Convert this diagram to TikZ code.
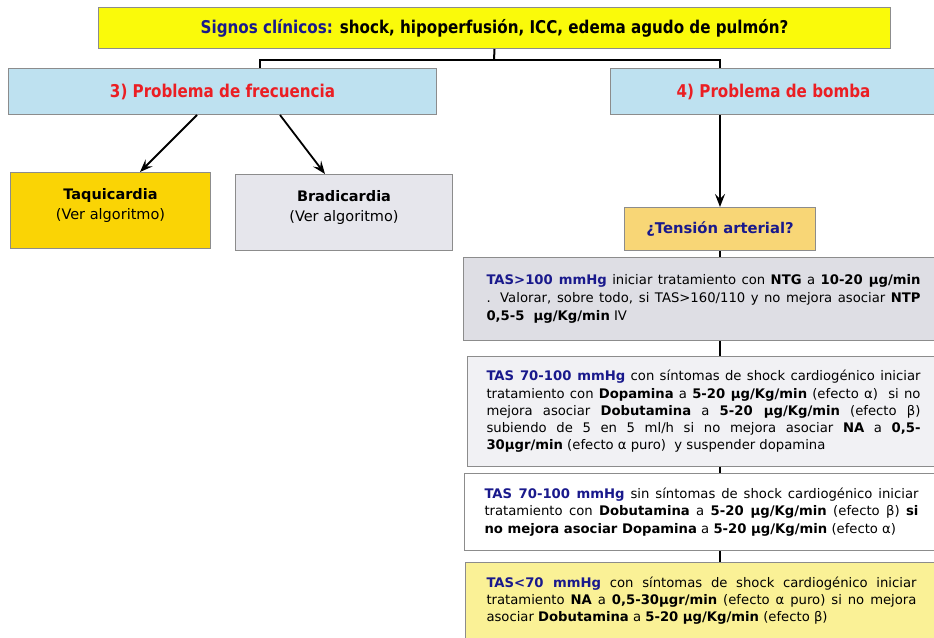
\documentclass[tikz,border=0pt]{standalone}
\usepackage{fontspec}
\setmainfont{DejaVu Sans}
\newfontfamily\condfont[FakeStretch=0.86]{DejaVu Sans}
\usetikzlibrary{arrows.meta}

\definecolor{titleyellow}{RGB}{250,250,10}
\definecolor{headblue}{RGB}{190,225,240}
\definecolor{taquigold}{RGB}{250,212,5}
\definecolor{bradigray}{RGB}{230,230,236}
\definecolor{tensionorange}{RGB}{248,214,118}
\definecolor{tasgray}{RGB}{222,222,228}
\definecolor{taslight}{RGB}{241,241,244}
\definecolor{tasyellow}{RGB}{250,241,150}
\definecolor{darkblue}{RGB}{25,25,140}
\definecolor{headred}{RGB}{235,30,35}
\definecolor{edgegray}{RGB}{140,140,140}

\newcommand{\tb}[1]{\textcolor{darkblue}{\textbf{#1}}}

\tikzset{
  box/.style={draw=edgegray, line width=1pt, anchor=north west, inner sep=0pt},
  txtbox/.style={box, align=justify, inner xsep=22pt, inner ysep=4pt,
    font=\fontsize{13.2}{17.3}\selectfont},
  headfont/.style={font=\condfont\fontsize{17.6}{20}\selectfont\bfseries},
  rhythm/.style={box, minimum height=76pt, align=center, font=\fontsize{14.5}{20}\selectfont},
  conn/.style={line width=2pt, black},
  arr/.style={line width=1.8pt, black, -{Stealth[length=13pt,width=10pt,inset=5pt]}},
}

\begin{document}
\begin{tikzpicture}[x=1pt,y=1pt]
\useasboundingbox (0,0) rectangle (934,-637);

% top question
\node[box, headfont, fill=titleyellow, minimum width=792pt, minimum height=41pt] (top) at (98,-7)
  {\textcolor{darkblue}{Signos clínicos:} shock, hipoperfusión, ICC, edema agudo de pulmón?};

% the two problem headers
\node[box, headfont, fill=headblue, minimum width=428pt, minimum height=46pt] (freq) at (8,-68)
  {\textcolor{headred}{3) Problema de frecuencia}};
\node[box, headfont, fill=headblue, minimum width=326pt, minimum height=46pt] (bomba) at (610,-68)
  {\textcolor{headred}{4) Problema de bomba}};

% rhythm branches
\node[rhythm, fill=taquigold, minimum width=200pt] (taqui) at (10,-172)
  {\textbf{Taquicardia}\\(Ver algoritmo)\\[-6pt]};
\node[rhythm, fill=bradigray, minimum width=217pt] (bradi) at (235,-174)
  {\textbf{Bradicardia}\\(Ver algoritmo)\\[-6pt]};

% blood pressure question
\node[box, fill=tensionorange, minimum width=191pt, minimum height=43pt,
  font=\fontsize{14.8}{17}\selectfont] (tension) at (624,-207)
  {\tb{¿Tensión arterial?}};

% treatment boxes
\node[txtbox, fill=tasgray, text width=434pt, minimum height=83pt, inner xsep=23pt,
  font=\fontsize{13.2}{18}\selectfont] (tas1) at (463,-257)
  {\tb{TAS>100 mmHg} iniciar tratamiento con \textbf{NTG} a \textbf{10-20 μg/min}\linebreak
   . Valorar, sobre todo, si TAS>160/110 y no mejora asociar \textbf{NTP}\linebreak
   \textbf{0,5-5\ \ μg/Kg/min} IV};

\node[txtbox, fill=taslight, text width=434pt, minimum height=110pt, inner xsep=19pt] (tas2) at (467,-356)
  {\tb{TAS 70-100 mmHg} con síntomas de shock cardiogénico iniciar\linebreak
   tratamiento con \textbf{Dopamina} a \textbf{5-20 μg/Kg/min} (efecto α)\ \ si no\linebreak
   mejora asociar \textbf{Dobutamina} a \textbf{5-20 μg/Kg/min} (efecto β)\linebreak
   subiendo de 5 en 5 ml/h si no mejora asociar \textbf{NA} a \textbf{0,5-}\linebreak
   \textbf{30μgr/min} (efecto α puro)\ \ y suspender dopamina};

\node[txtbox, fill=white, text width=434pt, minimum height=77pt, inner xsep=20pt] (tas3) at (464,-473)
  {\tb{TAS 70-100 mmHg} sin síntomas de shock cardiogénico iniciar\linebreak
   tratamiento con \textbf{Dobutamina} a \textbf{5-20 μg/Kg/min} (efecto β) \textbf{si}\linebreak
   \textbf{no mejora asociar Dopamina} a \textbf{5-20 μg/Kg/min} (efecto α)};

\node[txtbox, fill=tasyellow, text width=430pt, minimum height=76pt, inner xsep=21pt] (tas4) at (465,-562)
  {\tb{TAS<70 mmHg} con síntomas de shock cardiogénico iniciar\linebreak
   tratamiento \textbf{NA} a \textbf{0,5-30μgr/min} (efecto α puro) si no mejora\linebreak
   asociar \textbf{Dobutamina} a \textbf{5-20 μg/Kg/min} (efecto β)};

% fork from the top question
\coordinate (hub) at (494,-60);
\coordinate (forkL) at (260,-60);
\coordinate (forkR) at (720,-60);
\draw[conn] (top.south) -- (hub);
\draw[conn] (forkL |- freq.north) -- (forkL) -- (forkR) -- (forkR |- bomba.north);

% rate problem arrows
\draw[arr] ([xshift=189pt]freq.south west) -- ([xshift=130pt]taqui.north west);
\draw[arr] ([xshift=272pt]freq.south west) -- ([xshift=90pt]bradi.north west);

% pump problem chain
\draw[arr] (tension.north |- bomba.south) -- (tension.north);
\draw[conn] (tension.south) -- (tension.south |- tas1.north);
\draw[conn] (tension.south |- tas1.south) -- (tension.south |- tas2.north);
\draw[conn] (tension.south |- tas2.south) -- (tension.south |- tas3.north);
\draw[conn] (tension.south |- tas3.south) -- (tension.south |- tas4.north);
\end{tikzpicture}
\end{document}
